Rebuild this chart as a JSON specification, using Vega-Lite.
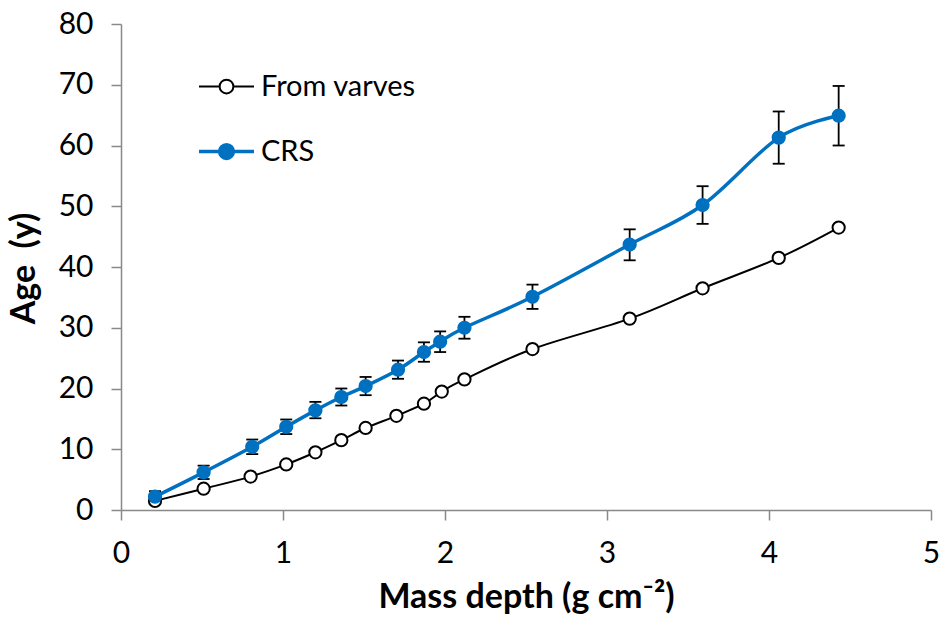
{
  "$schema": "https://vega.github.io/schema/vega-lite/v6.json",
  "width": 810,
  "height": 486,
  "autosize": "none",
  "padding": {"left": 121, "top": 24, "right": 14, "bottom": 113},
  "background": "white",
  "config": {
    "view": {"stroke": null},
    "font": "Lato",
    "axis": {
      "grid": false,
      "domainColor": "#898989",
      "domainWidth": 1.5,
      "tickColor": "#898989",
      "tickWidth": 1.5,
      "tickSize": 10,
      "labelFlush": false,
      "labelFont": "Lato",
      "labelFontSize": 30,
      "labelColor": "#000000",
      "labelPadding": 18,
      "titleFont": "Lato",
      "titleFontSize": 34,
      "titleFontWeight": "bold",
      "titleColor": "#000000"
    },
    "legend": {
      "orient": "none",
      "legendX": 76,
      "legendY": 34,
      "title": null,
      "padding": 0,
      "labelFont": "Lato",
      "labelFontSize": 29,
      "labelColor": "#000000",
      "labelOffset": 5,
      "rowPadding": 20,
      "symbolSize": 3025,
      "symbolType": "M-1,0H-0.25M0.25,0H1M0.25,0A0.25,0.25,0,1,1,-0.25,0A0.25,0.25,0,1,1,0.25,0Z",
      "symbolStrokeWidth": 2.5
    }
  },
  "data": {
    "values": [
      {"series": "From varves", "depth": 0.21, "age": 1.5},
      {"series": "From varves", "depth": 0.51, "age": 3.5},
      {"series": "From varves", "depth": 0.80, "age": 5.5},
      {"series": "From varves", "depth": 1.02, "age": 7.5},
      {"series": "From varves", "depth": 1.20, "age": 9.5},
      {"series": "From varves", "depth": 1.36, "age": 11.5},
      {"series": "From varves", "depth": 1.51, "age": 13.5},
      {"series": "From varves", "depth": 1.70, "age": 15.5},
      {"series": "From varves", "depth": 1.87, "age": 17.5},
      {"series": "From varves", "depth": 1.98, "age": 19.5},
      {"series": "From varves", "depth": 2.12, "age": 21.5},
      {"series": "From varves", "depth": 2.54, "age": 26.5},
      {"series": "From varves", "depth": 3.14, "age": 31.5},
      {"series": "From varves", "depth": 3.59, "age": 36.5},
      {"series": "From varves", "depth": 4.06, "age": 41.5},
      {"series": "From varves", "depth": 4.43, "age": 46.5},
      {"series": "CRS", "depth": 0.21, "age": 2.2, "lo": 1.3, "hi": 3.1},
      {"series": "CRS", "depth": 0.51, "age": 6.2, "lo": 5.1, "hi": 7.3},
      {"series": "CRS", "depth": 0.81, "age": 10.4, "lo": 9.2, "hi": 11.6},
      {"series": "CRS", "depth": 1.02, "age": 13.7, "lo": 12.5, "hi": 14.9},
      {"series": "CRS", "depth": 1.20, "age": 16.4, "lo": 15.1, "hi": 17.8},
      {"series": "CRS", "depth": 1.36, "age": 18.6, "lo": 17.2, "hi": 20.0},
      {"series": "CRS", "depth": 1.51, "age": 20.4, "lo": 18.9, "hi": 21.9},
      {"series": "CRS", "depth": 1.71, "age": 23.1, "lo": 21.6, "hi": 24.6},
      {"series": "CRS", "depth": 1.87, "age": 26.0, "lo": 24.4, "hi": 27.6},
      {"series": "CRS", "depth": 1.97, "age": 27.7, "lo": 26.0, "hi": 29.4},
      {"series": "CRS", "depth": 2.12, "age": 30.0, "lo": 28.2, "hi": 31.8},
      {"series": "CRS", "depth": 2.54, "age": 35.1, "lo": 33.1, "hi": 37.1},
      {"series": "CRS", "depth": 3.14, "age": 43.7, "lo": 41.1, "hi": 46.2},
      {"series": "CRS", "depth": 3.59, "age": 50.2, "lo": 47.1, "hi": 53.3},
      {"series": "CRS", "depth": 4.06, "age": 61.3, "lo": 57.0, "hi": 65.6},
      {"series": "CRS", "depth": 4.43, "age": 64.9, "lo": 60.0, "hi": 69.8}
    ]
  },
  "layer": [
    {
      "transform": [{"filter": "datum.series === 'CRS'"}],
      "mark": {"type": "rule", "color": "#000000", "strokeWidth": 1.8},
      "encoding": {
        "x": {"field": "depth", "type": "quantitative"},
        "y": {"field": "lo", "type": "quantitative"},
        "y2": {"field": "hi"}
      }
    },
    {
      "transform": [{"filter": "datum.series === 'CRS'"}],
      "mark": {"type": "tick", "orient": "horizontal", "color": "#000000", "size": 12, "thickness": 1.8, "opacity": 1},
      "encoding": {
        "x": {"field": "depth", "type": "quantitative"},
        "y": {"field": "lo", "type": "quantitative"}
      }
    },
    {
      "transform": [{"filter": "datum.series === 'CRS'"}],
      "mark": {"type": "tick", "orient": "horizontal", "color": "#000000", "size": 12, "thickness": 1.8, "opacity": 1},
      "encoding": {
        "x": {"field": "depth", "type": "quantitative"},
        "y": {"field": "hi", "type": "quantitative"}
      }
    },
    {
      "mark": {"type": "line", "interpolate": "cardinal"},
      "encoding": {
        "x": {
          "field": "depth",
          "type": "quantitative",
          "scale": {"domain": [0, 5], "nice": false},
          "axis": {"values": [0, 1, 2, 3, 4, 5], "format": "d", "title": "Mass depth (g cm⁻²)", "titleY": 97, "titleBaseline": "alphabetic"}
        },
        "y": {
          "field": "age",
          "type": "quantitative",
          "scale": {"domain": [0, 80], "nice": false},
          "axis": {"values": [0, 10, 20, 30, 40, 50, 60, 70, 80], "format": "d", "title": "Age\u00a0 (y)", "titleX": -87, "titleY": 244, "titleBaseline": "alphabetic", "titleAngle": -90}
        },
        "stroke": {
          "field": "series",
          "type": "nominal",
          "scale": {"domain": ["From varves", "CRS"], "range": ["#000000", "#0070C0"]}
        },
        "strokeWidth": {
          "field": "series",
          "type": "nominal",
          "scale": {"domain": ["From varves", "CRS"], "range": [2, 3.5]}
        },
        "order": {"field": "depth", "type": "quantitative"}
      }
    },
    {
      "mark": {"type": "point", "filled": true, "shape": "circle", "size": 150, "strokeWidth": 2, "opacity": 1},
      "encoding": {
        "x": {"field": "depth", "type": "quantitative"},
        "y": {"field": "age", "type": "quantitative"},
        "stroke": {"field": "series", "type": "nominal"},
        "fill": {
          "field": "series",
          "type": "nominal",
          "scale": {"domain": ["From varves", "CRS"], "range": ["#FFFFFF", "#0070C0"]}
        }
      }
    }
  ]
}
